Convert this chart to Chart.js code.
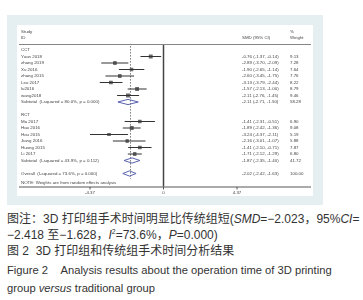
<!DOCTYPE html>
<html>
<head>
<meta charset="utf-8">
<script src="https://cdn.jsdelivr.net/npm/chart.js@4"></script>
<style>
  html, body { margin: 0; padding: 0; background: #fff; }
  body { width: 363px; height: 300px; position: relative; overflow: hidden; }
  #forest { position: absolute; left: 0; top: 0; }
  .cap { position: absolute; left: 7px; height: 14px; line-height: 14px; font-size: 12px;
         font-family: "Liberation Sans", "Noto Sans CJK SC", sans-serif; color: #333; white-space: nowrap; }
  .cap.en { font-size: 11.2px; }
  .cap sup { font-size: 7px; line-height: 0; }
</style>
</head>
<body>
<canvas id="forest" width="363" height="206"></canvas>
<div class="cap" style="top:212px">图注：3D 打印组手术时间明显比传统组短(<i>SMD</i>=−2.023，95%<i>CI</i>=</div>
<div class="cap" style="top:228px">−2.418 至−1.628，<i>I</i><sup>2</sup>=73.6%，<i>P</i>=0.000)</div>
<div class="cap" style="top:244px">图 2&nbsp;&nbsp;3D 打印组和传统组手术时间分析结果</div>
<div class="cap en" style="top:263px">Figure 2&nbsp;&nbsp;&nbsp;&nbsp;Analysis results about the operation time of 3D printing</div>
<div class="cap en" style="top:281px">group <i>versus</i> traditional group</div>
<script>
// données
const cctStudies = ['Yuan 2018', 'zhang 2019', 'Xu 2016', 'zhang 2015', 'Leo 2017', 'lu2016', 'wang2018'];
const cctSmd = [-0.76, -2.89, -1.90, -2.60, -3.13, -1.57, -2.11];
const cctLow = [-1.37, -3.70, -2.65, -3.45, -3.79, -2.13, -2.76];
const cctHigh = [-0.14, -2.09, -1.14, -1.75, -2.44, -1.00, -1.45];
const cctWeight = [9.13, 7.28, 7.64, 7.76, 8.22, 8.79, 9.46];

const rctStudies = ['Ma 2017', 'Hao 2016', 'Hou 2015', 'Jiang 2016', 'Huang 2015', 'Li 2017'];
const rctSmd = [-1.41, -1.89, -3.24, -2.16, -1.41, -1.71];
const rctLow = [-2.31, -2.42, -4.37, -3.01, -2.10, -2.12];
const rctHigh = [-0.51, -1.36, -2.11, -1.07, -0.71, -1.29];
const rctWeight = [6.90, 9.08, 5.19, 5.88, 7.87, 6.80];

// sous-totaux et global : [smd, bas, haut, poids]
const cctSubtotal = [-2.11, -2.71, -1.50, 58.28];
const rctSubtotal = [-1.87, -2.35, -1.40, 41.72];
const overall = [-2.02, -2.42, -1.63, 100.00];
const subtotalLabels = ['Subtotal  (I-squared = 80.0%, p = 0.000)', 'Subtotal  (I-squared = 43.9%, p = 0.112)'];
const overallLabel = 'Overall  (I-squared = 73.6%, p = 0.000)';
const noteLabel = 'NOTE: Weights are from random effects analysis';
const xTicks = [-4.37, 0, 4.37];

// construction des lignes du tableau
const rows = [];
rows.push({ label: 'CCT' });
cctStudies.forEach((s, i) => rows.push({ label: s, est: cctSmd[i], lo: cctLow[i], hi: cctHigh[i], w: cctWeight[i] }));
rows.push({ label: subtotalLabels[0], est: cctSubtotal[0], lo: cctSubtotal[1], hi: cctSubtotal[2], w: cctSubtotal[3], diamond: true });
rows.push({ label: '' });
rows.push({ label: 'RCT' });
rctStudies.forEach((s, i) => rows.push({ label: s, est: rctSmd[i], lo: rctLow[i], hi: rctHigh[i], w: rctWeight[i] }));
rows.push({ label: subtotalLabels[1], est: rctSubtotal[0], lo: rctSubtotal[1], hi: rctSubtotal[2], w: rctSubtotal[3], diamond: true });
rows.push({ label: '' });
rows.push({ label: overallLabel, est: overall[0], lo: overall[1], hi: overall[2], w: overall[3], diamond: true });

const fmt = v => v.toFixed(2);

const datasets = [];
const studyRows = rows.map((r, i) => ({ ...r, y: i })).filter(r => r.est !== undefined && !r.diamond);
const diamondRows = rows.map((r, i) => ({ ...r, y: i })).filter(r => r.diamond);

// intervalles de confiance
studyRows.forEach(r => {
    datasets.push({
        type: 'line',
        data: [{ x: r.lo, y: r.y }, { x: r.hi, y: r.y }],
        borderColor: '#333',
        borderWidth: 1,
        pointRadius: 0
    });
});
// boîtes grises (aire ~ poids)
datasets.push({
    type: 'scatter',
    data: studyRows.map(r => ({ x: r.est, y: r.y })),
    pointStyle: 'rect',
    pointRadius: studyRows.map(r => 2.7 * Math.sqrt(r.w / 9)),
    backgroundColor: '#6a6a6a',
    borderWidth: 0
});
// point central noir
datasets.push({
    type: 'scatter',
    data: studyRows.map(r => ({ x: r.est, y: r.y })),
    pointStyle: 'rect',
    pointRadius: 2,
    backgroundColor: '#111',
    borderWidth: 0
});
// losanges
diamondRows.forEach(r => {
    datasets.push({
        type: 'line',
        data: [
            { x: r.lo, y: r.y }, { x: r.est, y: r.y - 0.4 }, { x: r.hi, y: r.y },
            { x: r.est, y: r.y + 0.4 }, { x: r.lo, y: r.y }
        ],
        borderColor: '#5a62b0',
        borderWidth: 1,
        pointRadius: 0,
        fill: false,
        tension: 0
    });
});

const forestPlugin = {
    id: 'forest',
    beforeDraw(chart) {
        const ctx = chart.ctx;
        ctx.save();
        ctx.fillStyle = '#e5eef0';
        ctx.fillRect(7, 15, 316, 190);
        ctx.fillStyle = '#fff';
        ctx.fillRect(17, 25, 296, 171);
        ctx.restore();
    },
    beforeDatasetsDraw(chart) {
        const ctx = chart.ctx;
        const x = chart.scales.x, y = chart.scales.y;
        ctx.save();
        // ligne de l'effet global (pointillés)
        ctx.strokeStyle = '#555';
        ctx.lineWidth = 0.8;
        ctx.setLineDash([1.5, 1.5]);
        const xo = Math.round(x.getPixelForValue(overall[0])) + 0.5;
        ctx.beginPath();
        ctx.moveTo(xo, y.getPixelForValue(-0.6));
        ctx.lineTo(xo, y.getPixelForValue(19.8));
        ctx.stroke();
        ctx.setLineDash([]);
        // ligne zéro
        ctx.strokeStyle = '#444';
        ctx.lineWidth = 1.5;
        const x0 = x.getPixelForValue(0);
        ctx.beginPath();
        ctx.moveTo(x0, 45);
        ctx.lineTo(x0, chart.chartArea.bottom);
        ctx.stroke();
        ctx.restore();
    },
    afterDraw(chart) {
        const ctx = chart.ctx;
        const x = chart.scales.x, y = chart.scales.y;
        ctx.save();
        ctx.font = '4.4px "Liberation Sans", Arial, sans-serif';
        ctx.fillStyle = '#444';
        ctx.textBaseline = 'middle';
        // en-tête
        ctx.fillText('Study', 21, 31.5);
        ctx.fillText('ID', 21, 37.5);
        ctx.fillText('SMD (95% CI)', 242, 37.5);
        ctx.fillText('%', 290, 31.5);
        ctx.fillText('Weight', 290, 37.5);
        ctx.strokeStyle = '#666';
        ctx.lineWidth = 0.8;
        ctx.beginPath();
        ctx.moveTo(19, 44.5);
        ctx.lineTo(311, 44.5);
        ctx.stroke();
        // lignes
        rows.forEach((r, i) => {
            const py = y.getPixelForValue(i);
            ctx.fillText(r.label, 21, py);
            if (r.est !== undefined) {
                ctx.fillText(fmt(r.est) + ' (' + fmt(r.lo) + ', ' + fmt(r.hi) + ')', 242, py);
                ctx.fillText(fmt(r.w), 290, py);
            }
        });
        ctx.fillText(noteLabel, 21, y.getPixelForValue(20.4));
        // axe
        const ay = chart.chartArea.bottom + 0.5;
        ctx.strokeStyle = '#444';
        ctx.lineWidth = 0.9;
        ctx.beginPath();
        ctx.moveTo(19, ay);
        ctx.lineTo(311, ay);
        ctx.stroke();
        ctx.textAlign = 'center';
        xTicks.forEach(t => {
            const px = x.getPixelForValue(t);
            ctx.beginPath();
            ctx.moveTo(px, ay);
            ctx.lineTo(px, ay + 2.5);
            ctx.stroke();
            ctx.fillText(t === 0 ? '0' : (t < 0 ? '-' : '') + Math.abs(t).toFixed(2), px, ay + 6);
        });
        ctx.restore();
    }
};

new Chart(document.getElementById('forest').getContext('2d'), {
    type: 'scatter',
    data: { datasets: datasets },
    options: {
        responsive: false,
        animation: false,
        layout: { padding: { left: 90, right: 126, top: 43.5, bottom: 19.5 } },
        plugins: { legend: { display: false }, tooltip: { enabled: false } },
        scales: {
            x: { display: false, min: xTicks[0], max: xTicks[2] },
            y: { display: false, min: -1, max: 21, reverse: true }
        }
    },
    plugins: [forestPlugin]
});
</script>
</body>
</html>
